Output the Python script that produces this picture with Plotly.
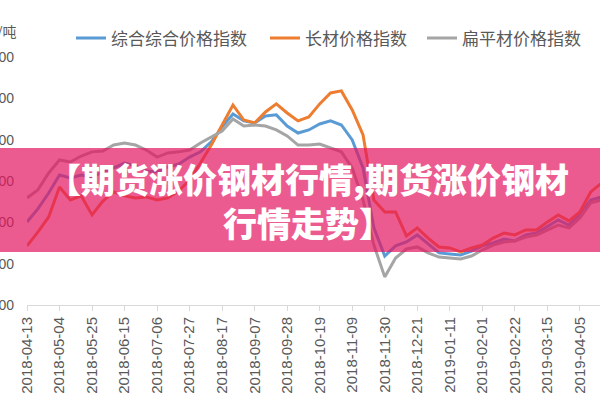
import plotly.graph_objects as go

dates = [
    "2018-04-13", "2018-04-20", "2018-04-27", "2018-05-04", "2018-05-11", "2018-05-18",
    "2018-05-25", "2018-06-01", "2018-06-08", "2018-06-15", "2018-06-22", "2018-06-29",
    "2018-07-06", "2018-07-13", "2018-07-20", "2018-07-27", "2018-08-03", "2018-08-10",
    "2018-08-17", "2018-08-24", "2018-08-31", "2018-09-07", "2018-09-14", "2018-09-21",
    "2018-09-28", "2018-10-05", "2018-10-12", "2018-10-19", "2018-10-26", "2018-11-02",
    "2018-11-09", "2018-11-16", "2018-11-23", "2018-11-30", "2018-12-07", "2018-12-14",
    "2018-12-21", "2018-12-28", "2019-01-04", "2019-01-11", "2019-01-18", "2019-01-25",
    "2019-02-01", "2019-02-08", "2019-02-15", "2019-02-22", "2019-03-01", "2019-03-08",
    "2019-03-15", "2019-03-22", "2019-03-29", "2019-04-05", "2019-04-12", "2019-04-19",
]

composite = [
    4202, 4265, 4342, 4429, 4415, 4429, 4420, 4444, 4463, 4487, 4473, 4449,
    4444, 4468, 4482, 4516, 4541, 4589, 4662, 4724, 4691, 4681, 4715, 4720,
    4666, 4632, 4647, 4676, 4691, 4671, 4599, 4463, 4173, 4037, 4086, 4105,
    4139, 4095, 4052, 4047, 4042, 4061, 4086, 4100, 4119, 4110, 4139, 4148,
    4178, 4211, 4187, 4236, 4308, 4323,
]

long_steel = [
    4086, 4153, 4226, 4371, 4308, 4328, 4236, 4303, 4347, 4328, 4318, 4323,
    4308, 4318, 4352, 4405, 4487, 4574, 4671, 4768, 4695, 4681, 4734, 4773,
    4729, 4691, 4710, 4773, 4826, 4836, 4744, 4623, 4308, 4250, 4250, 4134,
    4173, 4124, 4081, 4076, 4057, 4076, 4090, 4124, 4148, 4139, 4163, 4163,
    4202, 4236, 4207, 4250, 4347, 4390,
]

flat_steel = [
    4318, 4357, 4439, 4502, 4492, 4521, 4541, 4545, 4574, 4584, 4574, 4550,
    4516, 4536, 4541, 4550, 4584, 4613, 4642, 4700, 4666, 4671, 4666, 4647,
    4618, 4574, 4574, 4579, 4560, 4541, 4463, 4308, 4090, 3936, 4027, 4071,
    4081, 4052, 4032, 4027, 4023, 4037, 4066, 4090, 4105, 4110, 4129, 4139,
    4163, 4187, 4173, 4221, 4294, 4308,
]

tick_labels = [
    "2018-04-13", "2018-05-04", "2018-05-25", "2018-06-15", "2018-07-06", "2018-07-27",
    "2018-08-17", "2018-09-07", "2018-09-28", "2018-10-19", "2018-11-09", "2018-11-30",
    "2018-12-21", "2019-01-11", "2019-02-01", "2019-02-22", "2019-03-15", "2019-04-05",
]

y_ticks = [3800, 4000, 4200, 4400, 4600, 4800, 5000]

series_names = ["综合综合价格指数", "长材价格指数", "扁平材价格指数"]
colors = ["#5B9BD5", "#ED7D31", "#A5A5A5"]
legend_ids = ["legend", "legend2", "legend3"]
legend_px = [71, 265, 422]

W, H = 600, 400
ML, MR, MT, MB = 27, 0, 57, 95
PW = W - ML - MR
PH = H - MT - MB


def px_to_paper_x(px):
    return (px - ML) / PW


def py_to_paper_y(py):
    return (H - MB - py) / PH


fig = go.Figure()
for name, vals, col, lg in zip(series_names, [composite, long_steel, flat_steel], colors, legend_ids):
    fig.add_trace(go.Scatter(
        x=dates, y=vals, name=name, mode="lines",
        line=dict(color=col, width=3), legend=lg,
    ))

legend_style = dict(
    orientation="h", yanchor="top", xanchor="left",
    font=dict(family="Noto Sans CJK SC", size=17, color="#595959"),
    bgcolor="rgba(0,0,0,0)",
)
layout_legends = {}
for lg, lx in zip(legend_ids, legend_px):
    layout_legends[lg] = dict(legend_style, x=px_to_paper_x(lx), y=py_to_paper_y(20.5))

fig.update_layout(
    width=W, height=H,
    margin=dict(l=ML, r=MR, t=MT, b=MB, autoexpand=False),
    paper_bgcolor="white", plot_bgcolor="white",
    showlegend=True,
    xaxis=dict(
        type="date",
        range=["2018-04-13", "2019-04-18"],
        tickvals=tick_labels, ticktext=tick_labels,
        tickangle=-90,
        showgrid=False, zeroline=False,
        showline=True, linecolor="#D9D9D9", linewidth=1,
        ticks="outside", ticklen=5, tickcolor="#D9D9D9",
        tickfont=dict(family="Liberation Sans", size=15, color="#595959"),
    ),
    yaxis=dict(
        range=[3800, 5000],
        tickvals=y_ticks,
        showgrid=False, zeroline=False, showline=False,
        ticks="", ticklabelstandoff=12,
        tickfont=dict(family="Liberation Sans", size=14, color="#595959"),
    ),
    **layout_legends,
)

# unit label (partly cut off at the left edge, as in the reference)
fig.add_annotation(
    text="元/吨", xref="paper", yref="paper",
    x=px_to_paper_x(19), y=py_to_paper_y(31),
    xanchor="right", yanchor="middle", showarrow=False,
    font=dict(family="Noto Sans CJK SC", size=14, color="#595959"),
)

# pink semi-transparent banner
fig.add_shape(
    type="rect", xref="paper", yref="paper",
    x0=px_to_paper_x(0), x1=px_to_paper_x(W),
    y0=py_to_paper_y(252), y1=py_to_paper_y(148),
    fillcolor="rgb(228,21,95)", opacity=0.7, line=dict(width=0), layer="above",
)

banner_text = "【期货涨价钢材行情,期货涨价钢材<br>行情走势】"
fig.add_annotation(
    text=banner_text, xref="paper", yref="paper",
    x=px_to_paper_x(308), y=py_to_paper_y(200.5),
    xanchor="center", yanchor="middle", showarrow=False, align="center",
    font=dict(family="Noto Sans CJK SC", size=34, color="white", weight=900),
)

fig.write_html(
    "out.html",
    config={"displayModeBar": False},
    post_script="document.body.style.margin='0';document.body.style.padding='0';",
)
